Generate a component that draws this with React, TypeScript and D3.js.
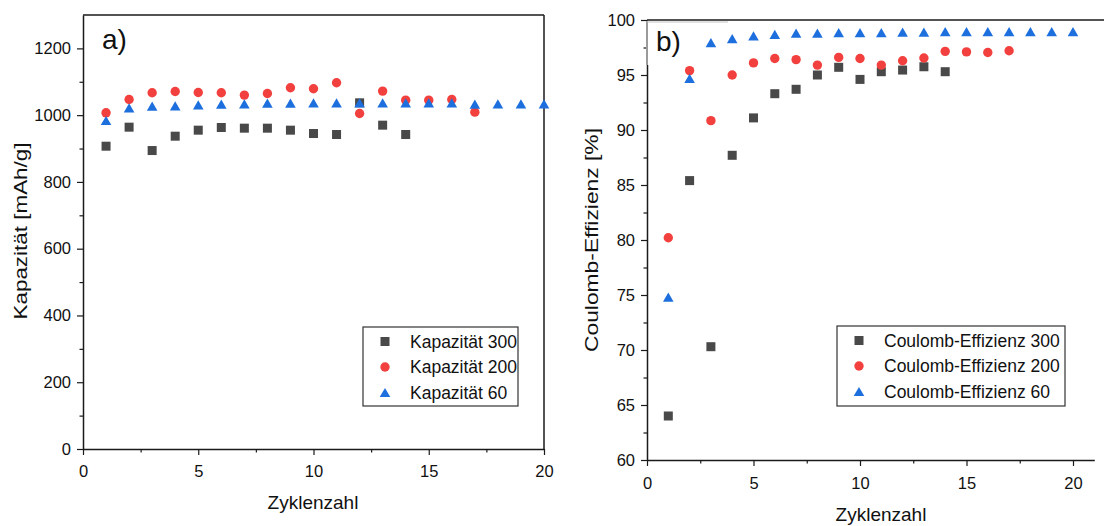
import React, { useEffect, useRef } from 'react';
import * as d3 from 'd3';

// cycle numbers
const cycles = [1, 2, 3, 4, 5, 6, 7, 8, 9, 10, 11, 12, 13, 14, 15, 16, 17, 18, 19, 20];

// a) capacity [mAh/g]
const kap300 = [907, 964, 894, 937, 955, 963, 961, 961, 955, 945, 942, 1037, 970, 942];
const kap200 = [1007, 1047, 1067, 1071, 1068, 1067, 1060, 1065, 1082, 1079, 1097, 1005, 1072, 1045, 1045, 1047, 1009];
const kap60 = [984, 1022, 1027, 1028, 1031, 1033, 1034, 1036, 1036, 1037, 1037, 1037, 1037, 1037, 1037, 1037, 1033, 1034, 1034, 1034];

// b) coulomb efficiency [%]
const ce300 = [64.0, 85.4, 70.3, 87.7, 91.1, 93.3, 93.7, 95.0, 95.7, 94.6, 95.3, 95.45, 95.75, 95.3];
const ce200 = [80.2, 95.4, 90.85, 95.0, 96.1, 96.5, 96.4, 95.9, 96.6, 96.5, 95.9, 96.3, 96.55, 97.15, 97.1, 97.05, 97.2];
const ce60 = [74.8, 94.7, 97.95, 98.3, 98.55, 98.7, 98.8, 98.8, 98.85, 98.85, 98.85, 98.9, 98.9, 98.95, 98.95, 98.95, 98.95, 98.95, 98.95, 98.95];

const kapTicks = [0, 200, 400, 600, 800, 1000, 1200];
const kapMinor = [100, 300, 500, 700, 900, 1100];
const ceTicks = [60, 65, 70, 75, 80, 85, 90, 95, 100];
const ceMinor = [62.5, 67.5, 72.5, 77.5, 82.5, 87.5, 92.5, 97.5];
const xTicks = [0, 5, 10, 15, 20];
const xMinor = [2.5, 7.5, 12.5, 17.5];

const legendA = ['Kapazität 300', 'Kapazität 200', 'Kapazität 60'];
const legendB = ['Coulomb-Effizienz 300', 'Coulomb-Effizienz 200', 'Coulomb-Effizienz 60'];

const FONT = "'Liberation Sans', Arial, sans-serif";
const COLORS = ['#494949', '#f2403e', '#1d6fde'];
const triPath = 'M0,-4.6L5.3,4.6L-5.3,4.6Z';

function drawMarker(g, kind, x, y) {
  if (kind === 0) {
    g.append('rect').attr('x', x - 4.5).attr('y', y - 4.5).attr('width', 9).attr('height', 9).attr('fill', COLORS[0]);
  } else if (kind === 1) {
    g.append('circle').attr('cx', x).attr('cy', y).attr('r', 4.7).attr('fill', COLORS[1]);
  } else {
    g.append('path').attr('d', triPath).attr('transform', `translate(${x},${y})`).attr('fill', COLORS[2]);
  }
}

function drawPanel(svg, opts) {
  const { x0, x1, y0, y1, yDomain, yTicks, yMinor, xPad, series, legend, legendBox, label, yTitle, yTitleX, yTitleLen, xTitleX, xTitleY, rightSpine } = opts;
  const x = d3.scaleLinear().domain([0, 20]).range([x0, x1]);
  const y = d3.scaleLinear().domain(yDomain).range([y1, y0]);
  const g = svg.append('g');

  // frame
  g.append('line').attr('x1', x0).attr('x2', rightSpine ? x1 : 1104).attr('y1', y0).attr('y2', y0)
    .attr('stroke', '#1a1a1a').attr('stroke-width', 1.5);
  if (rightSpine) {
    g.append('line').attr('x1', x1).attr('x2', x1).attr('y1', y0).attr('y2', y1)
      .attr('stroke', '#1a1a1a').attr('stroke-width', 1.5);
  }

  const xEnd = rightSpine ? 20 : 21;
  const xAxisScale = d3.scaleLinear().domain([0, xEnd]).range([x0, x(xEnd)]);
  const xAxis = g.append('g').attr('transform', `translate(0,${y1})`)
    .call(d3.axisBottom(xAxisScale).tickValues(xTicks).tickSize(6).tickSizeOuter(0).tickPadding(xPad));
  g.append('g').attr('transform', `translate(0,${y1})`)
    .call(d3.axisBottom(x).tickValues(xMinor).tickSize(3.5).tickSizeOuter(0).tickFormat(() => ''))
    .select('.domain').remove();

  const yAxis = g.append('g').attr('transform', `translate(${x0},0)`)
    .call(d3.axisLeft(y).tickValues(yTicks).tickSize(6).tickSizeOuter(0).tickPadding(6).tickFormat(d3.format('d')));
  g.append('g').attr('transform', `translate(${x0},0)`)
    .call(d3.axisLeft(y).tickValues(yMinor).tickSize(3.5).tickSizeOuter(0).tickFormat(() => ''))
    .select('.domain').remove();

  g.selectAll('.domain').attr('stroke', '#1a1a1a').attr('stroke-width', 1.5);
  g.selectAll('.tick line').attr('stroke', '#1a1a1a').attr('stroke-width', 1.2);
  [xAxis, yAxis].forEach(a => a.selectAll('text').attr('font-family', FONT).attr('font-size', 16.5).attr('fill', '#111'));

  // panel label
  if (opts.labelBox) {
    g.append('rect').attr('x', x0 - 1).attr('y', y0 + 1).attr('width', 82).attr('height', 44).attr('fill', 'white');
    g.append('line').attr('x1', x0).attr('x2', x0).attr('y1', y0 + 1).attr('y2', y0 + 45)
      .attr('stroke', '#9a9a9a').attr('stroke-width', 2);
    g.append('line').attr('x1', x0).attr('x2', x0 + 81).attr('y1', y0 + 2).attr('y2', y0 + 2)
      .attr('stroke', '#c4c4c4').attr('stroke-width', 1.2);
  }
  g.append('text').attr('x', label.x).attr('y', label.y).text(label.text)
    .attr('font-family', FONT).attr('font-size', 28).attr('fill', '#111');

  // data
  series.forEach((vals, k) => {
    const sg = g.append('g');
    vals.forEach((v, i) => drawMarker(sg, k, x(cycles[i]), y(v)));
  });

  // titles
  g.append('text')
    .attr('transform', `translate(${yTitleX},${(y0 + y1) / 2 + opts.yTitleShift}) rotate(-90)`)
    .attr('text-anchor', 'middle').attr('dominant-baseline', 'central')
    .attr('font-family', FONT).attr('font-size', 18.5).attr('fill', '#111')
    .attr('textLength', yTitleLen).attr('lengthAdjust', 'spacingAndGlyphs')
    .text(yTitle);
  g.append('text').attr('x', xTitleX).attr('y', xTitleY).attr('text-anchor', 'middle')
    .attr('font-family', FONT).attr('font-size', 19).attr('fill', '#111').text('Zyklenzahl');

  // legend
  const lb = legendBox;
  g.append('rect').attr('x', lb.x).attr('y', lb.y).attr('width', lb.w).attr('height', lb.h)
    .attr('fill', 'white').attr('stroke', '#333').attr('stroke-width', 1.2);
  legend.forEach((name, k) => {
    const cy = lb.y + 14.5 + k * 25.5;
    drawMarker(g, k, lb.mx, cy);
    g.append('text').attr('x', lb.tx).attr('y', cy).attr('dominant-baseline', 'central')
      .attr('font-family', FONT).attr('font-size', 17.5).attr('fill', '#111').text(name);
  });
}

const App = () => {
  const svgRef = useRef(null);

  useEffect(() => {
    const svg = d3.select(svgRef.current);
    svg.selectAll('*').remove();

    drawPanel(svg, {
      x0: 83, x1: 544, y0: 15, y1: 449,
      yDomain: [0, 1300], yTicks: kapTicks, yMinor: kapMinor,
      xPad: 10, series: [kap300, kap200, kap60], legend: legendA,
      legendBox: { x: 363, y: 327, w: 155, h: 79, mx: 385, tx: 410 },
      label: { x: 102, y: 49, text: 'a)' },
      yTitle: 'Kapazität [mAh/g]', yTitleX: 20, yTitleLen: 177, yTitleShift: -1,
      xTitleX: 313, xTitleY: 509, rightSpine: true, labelBox: false,
    });

    drawPanel(svg, {
      x0: 647, x1: 1073, y0: 20, y1: 460,
      yDomain: [60, 100], yTicks: ceTicks, yMinor: ceMinor,
      xPad: 11, series: [ce300, ce200, ce60], legend: legendB,
      legendBox: { x: 837, y: 326, w: 228, h: 80, mx: 859, tx: 884 },
      label: { x: 656, y: 51, text: 'b)' },
      yTitle: 'Coulomb-Effizienz [%]', yTitleX: 591, yTitleLen: 224, yTitleShift: 0,
      xTitleX: 881, xTitleY: 521, rightSpine: false, labelBox: true,
    });
  }, []);

  return (
    <svg ref={svgRef} width={1104} height={526}
      style={{ position: 'absolute', left: 0, top: 0, background: 'white' }} />
  );
};

export default App;
